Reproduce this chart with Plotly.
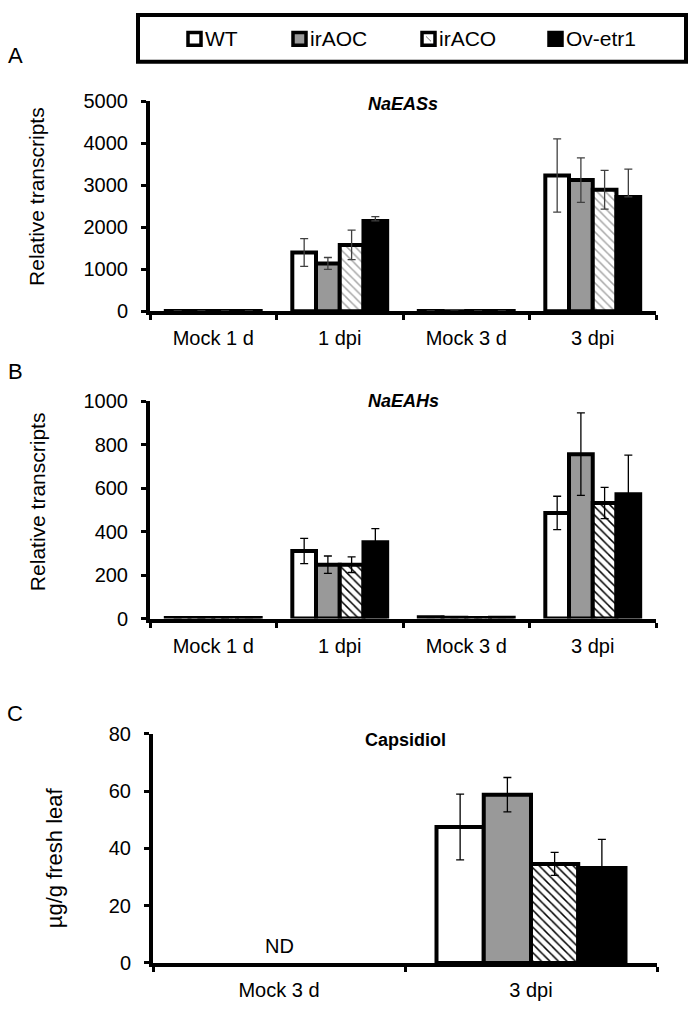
import plotly.graph_objects as go

# ---------------- data ----------------
genotypes = ["WT", "irAOC", "irACO", "Ov-etr1"]
cats_ab = ["Mock 1 d", "1 dpi", "Mock 3 d", "3 dpi"]
cats_c = ["Mock 3 d", "3 dpi"]

# Panel A: NaEASs relative transcripts
eas_wt = [8, 1400, 6, 3230]
eas_wt_err = [3, 330, 2, 870]
eas_aoc = [6, 1140, 5, 3120]
eas_aoc_err = [2, 140, 2, 530]
eas_aco = [7, 1580, 6, 2890]
eas_aco_err = [2, 350, 2, 460]
eas_etr = [9, 2150, 7, 2720]
eas_etr_err = [3, 100, 2, 660]

# Panel B: NaEAHs relative transcripts
eah_wt = [3, 311, 6, 486]
eah_wt_err = [1, 58, 2, 77]
eah_aoc = [2, 248, 4, 757]
eah_aoc_err = [1, 40, 1, 190]
eah_aco = [2, 248, 3, 532]
eah_aco_err = [1, 36, 1, 72]
eah_etr = [3, 351, 4, 572]
eah_etr_err = [1, 63, 1, 180]

# Panel C: Capsidiol (ug/g fresh leaf); Mock 3 d = ND (not detected)
cap_wt = [None, 47.5]
cap_wt_err = [0, 11.5]
cap_aoc = [None, 58.8]
cap_aoc_err = [0, 6.0]
cap_aco = [None, 34.6]
cap_aco_err = [0, 4.0]
cap_etr = [None, 33.2]
cap_etr_err = [0, 10.0]

W, H = 693, 1016
FONT = "Liberation Sans, Arial, sans-serif"


def px_x(x):
    return x / W


def px_y(y):
    return 1 - y / H


fig = go.Figure()

styles = {
    "WT": dict(color="white"),
    "irAOC": dict(color="#999999"),
    "irACO": dict(color="white", pattern=True),
    "Ov-etr1": dict(color="black"),
}

panels = [
    ("x", "y", cats_ab,
     [(eas_wt, eas_wt_err), (eas_aoc, eas_aoc_err), (eas_aco, eas_aco_err), (eas_etr, eas_etr_err)],
     "#a8a8a8", "#404040"),
    ("x2", "y2", cats_ab,
     [(eah_wt, eah_wt_err), (eah_aoc, eah_aoc_err), (eah_aco, eah_aco_err), (eah_etr, eah_etr_err)],
     "#000000", "#000000"),
    ("x3", "y3", cats_c,
     [(cap_wt, cap_wt_err), (cap_aoc, cap_aoc_err), (cap_aco, cap_aco_err), (cap_etr, cap_etr_err)],
     "#000000", "#000000"),
]

for xa, ya, cats, series, hatch_col, err_col in panels:
    for g, (vals, errs) in zip(genotypes, series):
        st = styles[g]
        marker = dict(color=st["color"], line=dict(color="black", width=4))
        if st.get("pattern"):
            marker["pattern"] = dict(shape="\\", fgcolor=hatch_col, bgcolor="white",
                                     size=6, solidity=0.25, fillmode="replace")
        if g == "Ov-etr1":
            err = dict(type="data", array=errs, arrayminus=[0] * len(errs), symmetric=False,
                       color=err_col, thickness=1.3, width=4)
        else:
            err = dict(type="data", array=errs, color=err_col, thickness=1.3, width=4)
        fig.add_trace(go.Bar(x=cats, y=vals, name=g, marker=marker, error_y=err,
                             xaxis=xa, yaxis=ya, showlegend=False))

axis_common = dict(showline=True, linewidth=4, linecolor="black", ticks="outside",
                   ticklen=5, tickwidth=3, tickcolor="black", showgrid=False, zeroline=False,
                   tickfont=dict(family=FONT, size=20, color="black"))

# panel geometry (pixels)
A = dict(x0=150, x1=656, y0=92, y1=307)
B = dict(x0=150, x1=656, y0=399, y1=621)
C = dict(x0=153, x1=657, y0=739, y1=973)

fig.update_layout(
    width=W, height=H, margin=dict(l=0, r=0, t=0, b=0),
    paper_bgcolor="white", plot_bgcolor="white",
    barmode="group", bargap=0.25, bargroupgap=0,
    font=dict(family=FONT, color="black"),
    xaxis=dict(domain=[px_x(A["x0"]), px_x(A["x1"])], anchor="y", type="category",
               tickson="boundaries", range=[-0.5, 3.5], ticklabelstandoff=6, **axis_common),
    yaxis=dict(domain=[px_y(A["y1"]), px_y(A["y0"])], anchor="x", range=[0, 5000],
               dtick=1000, ticklabelstandoff=9, **axis_common),
    xaxis2=dict(domain=[px_x(B["x0"]), px_x(B["x1"])], anchor="y2", type="category",
                tickson="boundaries", range=[-0.5, 3.5], ticklabelstandoff=6, **axis_common),
    yaxis2=dict(domain=[px_y(B["y1"]), px_y(B["y0"])], anchor="x2", range=[0, 1000],
                dtick=200, ticklabelstandoff=9, **axis_common),
    xaxis3=dict(domain=[px_x(C["x0"]), px_x(C["x1"])], anchor="y3", type="category",
                tickson="boundaries", range=[-0.5, 1.5], ticklabelstandoff=6, **axis_common),
    yaxis3=dict(domain=[px_y(C["y1"]), px_y(C["y0"])], anchor="x3", range=[0, 80],
                dtick=20, ticklabelstandoff=9, **axis_common),
)

ann = []


def add_text(text, x, y, size, angle=0, xanchor="center"):
    ann.append(dict(text=text, x=px_x(x), y=px_y(y), xref="paper", yref="paper",
                    xanchor=xanchor, yanchor="middle", showarrow=False, textangle=angle,
                    font=dict(family=FONT, size=size, color="black")))


# panel letters
for lab, x, y in [("A", 15, 45), ("B", 15, 368), ("C", 15, 718)]:
    add_text(lab, x, y, 22)
# titles
add_text("<b><i>NaEASs</i></b>", (A["x0"] + A["x1"]) / 2, 95, 18)
add_text("<b><i>NaEAHs</i></b>", (B["x0"] + B["x1"]) / 2, 399, 18)
add_text("<b>Capsidiol</b>", (C["x0"] + C["x1"]) / 2, 745, 18)
# y-axis titles
add_text("Relative transcripts", 37, 190, 21, angle=-90)
add_text("Relative transcripts", 37, 502, 21, angle=-90)
add_text("µg/g fresh leaf", 54, 866, 22, angle=-90)
# ND label
ann.append(dict(text="ND", x=cats_c[0], y=6, xref="x3", yref="y3", showarrow=False,
                xanchor="center", yanchor="middle",
                font=dict(family=FONT, size=20, color="black")))

# custom legend
shapes = [dict(type="rect", xref="paper", yref="paper", x0=px_x(138), x1=px_x(686),
               y0=px_y(52), y1=px_y(4), line=dict(color="black", width=4), fillcolor="white")]
leg_x = [188, 293, 422, 549]
leg_fill = {"WT": "white", "irAOC": "#999999", "irACO": "white", "Ov-etr1": "black"}
for g, lx in zip(genotypes, leg_x):
    shapes.append(dict(type="rect", xref="paper", yref="paper", x0=px_x(lx), x1=px_x(lx + 13),
                       y0=px_y(35), y1=px_y(22), line=dict(color="black", width=3.5),
                       fillcolor=leg_fill[g]))
    if g == "irACO":
        shapes.append(dict(type="line", xref="paper", yref="paper", x0=px_x(lx + 4), x1=px_x(lx + 9),
                           y0=px_y(26), y1=px_y(31), line=dict(color="#777777", width=1)))
    add_text(g, lx + 15, 28.5, 21, xanchor="left")

fig.update_layout(annotations=ann, shapes=shapes)
fig.write_html("out.html", config={"displayModeBar": False},
               post_script="document.body.style.margin='0';document.body.style.overflow='hidden';")
